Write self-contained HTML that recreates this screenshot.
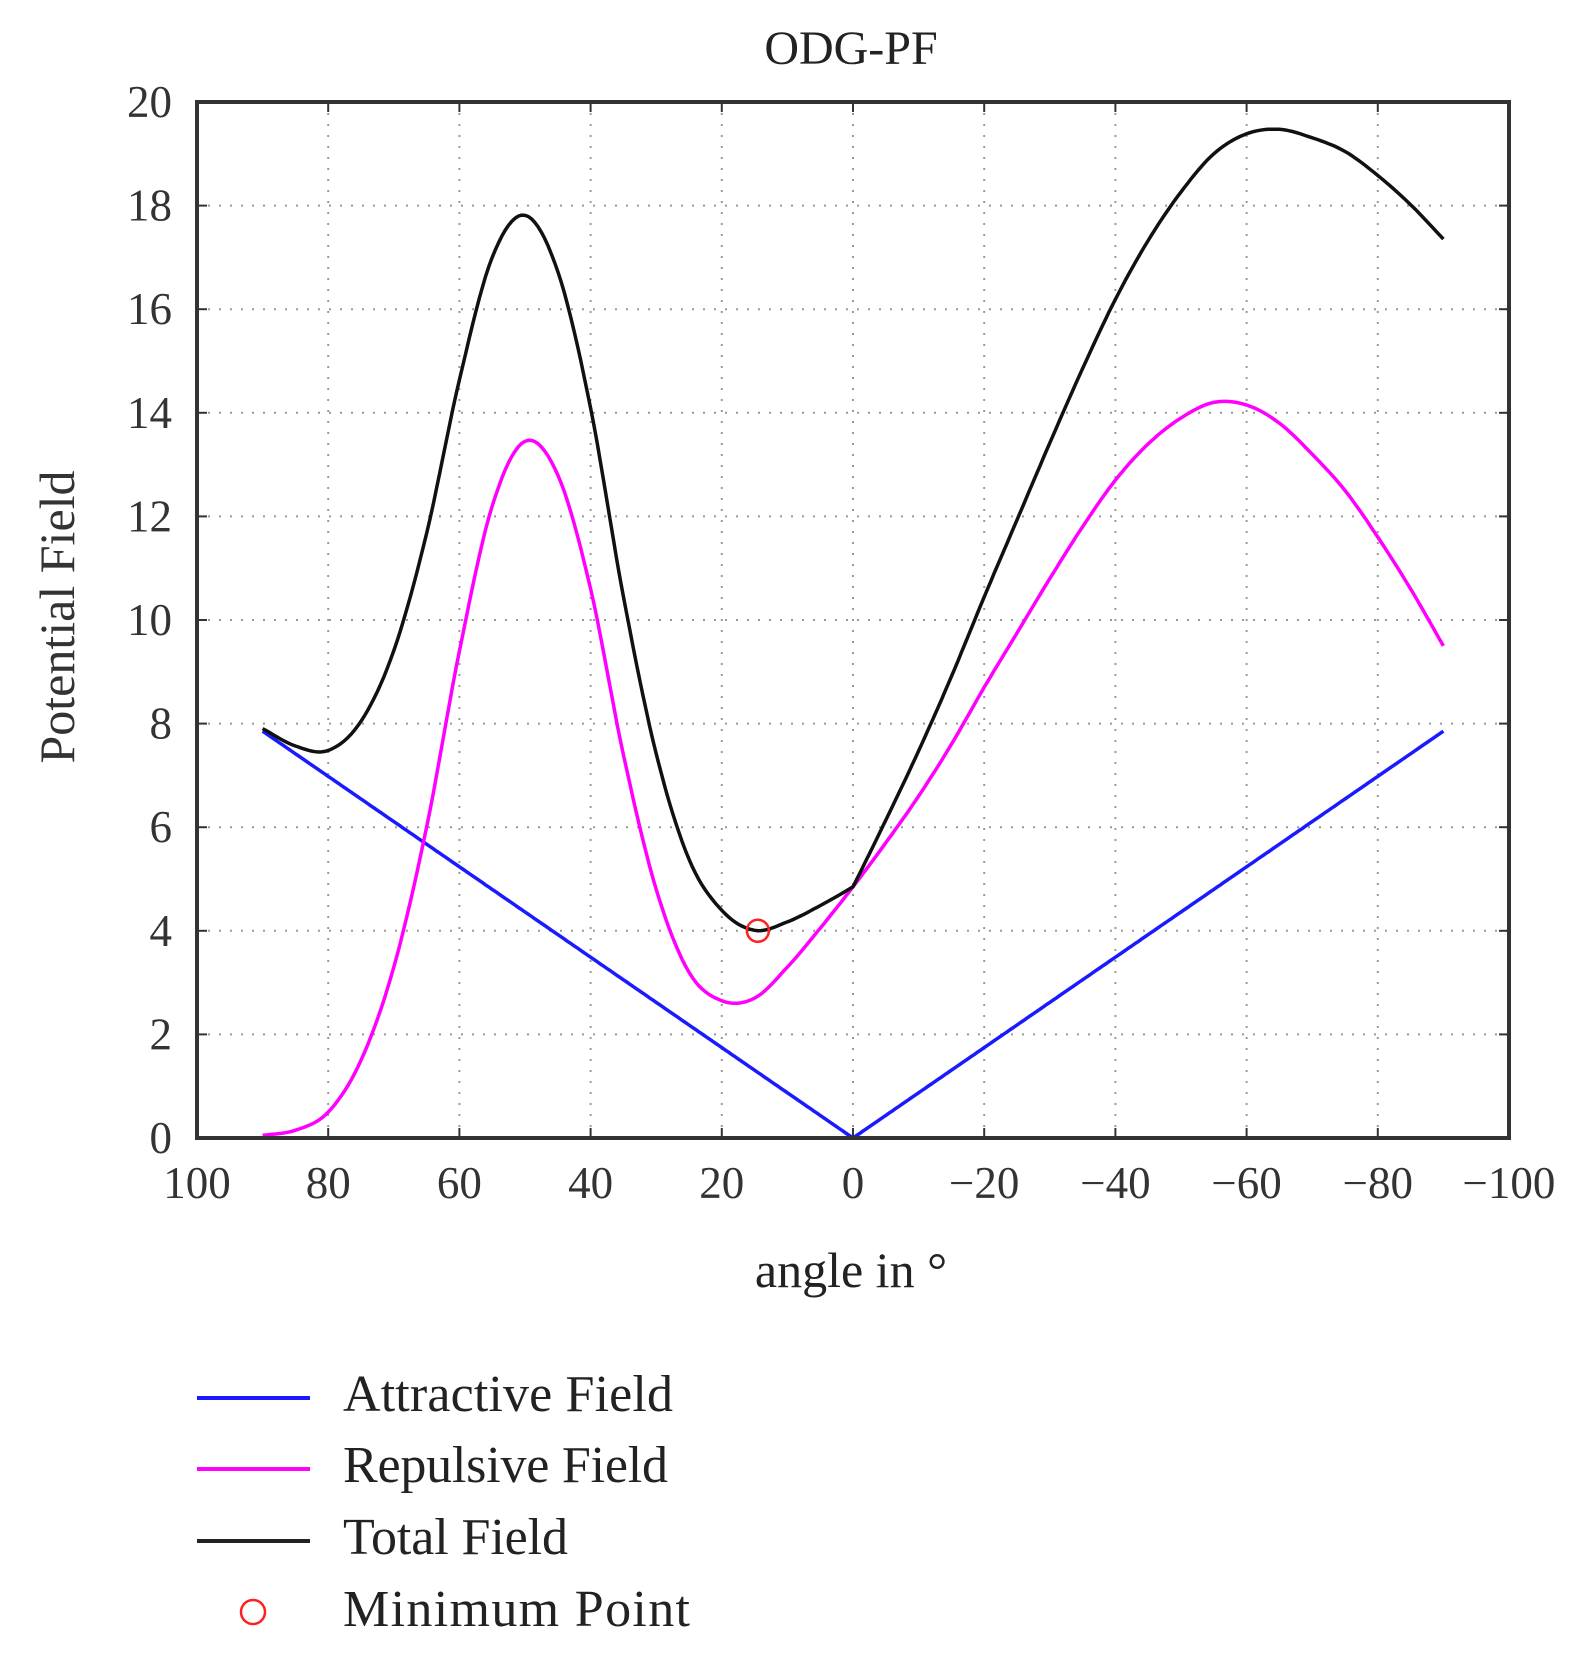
<!DOCTYPE html>
<html><head><meta charset="utf-8"><style>
html,body{margin:0;padding:0;background:#fff;}
svg{display:block;font-family:"Liberation Serif",serif;}
</style></head><body>
<svg id="s" width="1595" height="1672" viewBox="0 0 1595 1672" xmlns="http://www.w3.org/2000/svg">
<rect width="1595" height="1672" fill="#fff"/>
<g id="grid" stroke="#999" stroke-width="2" stroke-dasharray="2,9"></g>
<g id="ticks" stroke="#333" stroke-width="2"></g>
<g id="labels" fill="#333" font-size="45"></g>
<text x="851" y="64" font-size="48" text-anchor="middle" fill="#222">ODG-PF</text>
<text x="851" y="1287" font-size="50" text-anchor="middle" fill="#222">angle in °</text>
<text transform="translate(74,617) rotate(-90)" font-size="50" text-anchor="middle" fill="#333">Potential Field</text>
<path id="att" fill="none" stroke="#1a1aff" stroke-width="3.5"/>
<path id="rep" fill="none" stroke="#ff00ff" stroke-width="3.5"/>
<path id="tot" fill="none" stroke="#111" stroke-width="3.5"/>
<circle id="mk" r="11" fill="none" stroke="#ff2020" stroke-width="2.5"/>
<rect x="197" y="102" width="1312" height="1036" fill="none" stroke="#333" stroke-width="4"/>
<line x1="197" y1="1398" x2="310" y2="1398" stroke="#1a1aff" stroke-width="4"/>
<line x1="197" y1="1469" x2="310" y2="1469" stroke="#ff00ff" stroke-width="4"/>
<line x1="197" y1="1541" x2="310" y2="1541" stroke="#222" stroke-width="4"/>
<circle cx="253" cy="1612" r="12" fill="none" stroke="#ff2020" stroke-width="2.5"/>
<g font-size="52" fill="#222">
<text x="343" y="1411" textLength="330">Attractive Field</text>
<text x="343" y="1482" textLength="325">Repulsive Field</text>
<text x="343" y="1554" textLength="225">Total Field</text>
<text x="343" y="1626" textLength="347">Minimum Point</text>
</g>
</svg>
<script>
var L=197,T=102,W=1312,H=1036,B=1138;
function X(a){return L+(100-a)/200*W;}
function Y(v){return B-v/20*H;}
var ns="http://www.w3.org/2000/svg";
function el(p,n,at,t){var e=document.createElementNS(ns,n);for(var k in at)e.setAttribute(k,at[k]);if(t!==undefined)e.textContent=t;document.getElementById(p).appendChild(e);}
for(var a=100;a>=-100;a-=20){var x=X(a);
 if(a<100&&a>-100)el("grid","line",{x1:x,y1:T,x2:x,y2:B});
 el("ticks","line",{x1:x,y1:B,x2:x,y2:B-10});el("ticks","line",{x1:x,y1:T,x2:x,y2:T+10});
 el("labels","text",{x:x,y:1198,"text-anchor":"middle"},a<0?"\u2212"+(-a):""+a);}
for(var v=0;v<=20;v+=2){var y=Y(v);
 if(v>0&&v<20)el("grid","line",{x1:L,y1:y,x2:L+W,y2:y});
 el("ticks","line",{x1:L,y1:y,x2:L+10,y2:y});el("ticks","line",{x1:L+W,y1:y,x2:L+W-10,y2:y});
 el("labels","text",{x:172,y:y+15,"text-anchor":"end"},""+v);}
var V=[0.05,0.15,0.5,1.5,3.3,6.0,9.4,12.2,13.45,12.8,10.6,7.4,4.8,3.2,2.65,2.7,3.3,4.05,4.85,5.7,6.6,7.6,8.7,9.75,10.8,11.8,12.7,13.4,13.9,14.2,14.15,13.8,13.2,12.5,11.6,10.6,9.5];
function rep(a){var u=(90-a)/5;var i=Math.min(Math.floor(u),V.length-2);var t=u-i;
 var p0=V[Math.max(i-1,0)],p1=V[i],p2=V[i+1],p3=V[Math.min(i+2,V.length-1)];
 var m1=(p2-p0)/(i==0?1:2),m2=(p3-p1)/(i+2>=V.length?1:2);
 var t2=t*t,t3=t2*t;
 return (2*t3-3*t2+1)*p1+(t3-2*t2+t)*m1+(-2*t3+3*t2)*p2+(t3-t2)*m2;}
function att(a){return 5*Math.abs(a)*Math.PI/180;}
var da="",dr="",dt="";
for(var k=0;k<=360;k++){var a=90-k*0.5;var c=(k==0?"M":"L");
 da+=c+X(a).toFixed(1)+","+Y(att(a)).toFixed(1);
 dr+=c+X(a).toFixed(1)+","+Y(rep(a)).toFixed(1);
 dt+=c+X(a).toFixed(1)+","+Y(att(a)+rep(a)).toFixed(1);}
document.getElementById("att").setAttribute("d",da);
document.getElementById("rep").setAttribute("d",dr);
document.getElementById("tot").setAttribute("d",dt);
var mk=document.getElementById("mk");mk.setAttribute("cx",X(14.5));mk.setAttribute("cy",Y(4.0));
</script>
</body></html>
